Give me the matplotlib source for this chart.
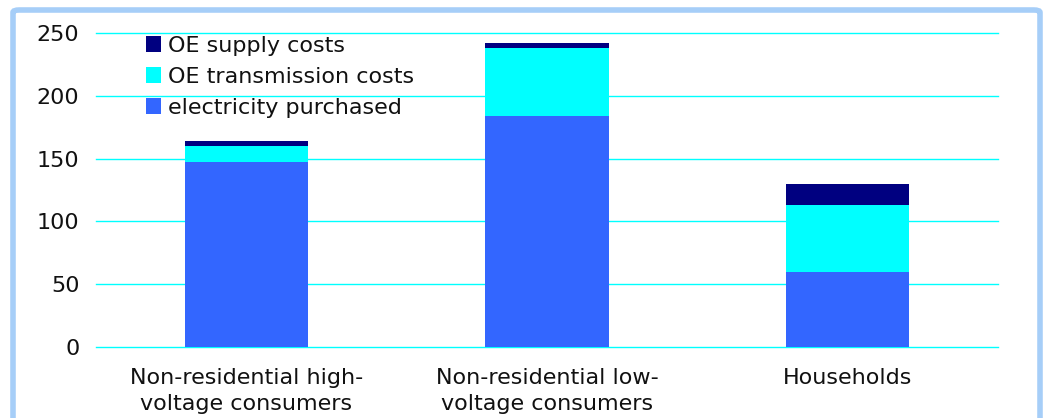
import numpy as np
import matplotlib.pyplot as plt
from matplotlib.patches import FancyBboxPatch

categories = ['Non-residential high-\nvoltage consumers',
              'Non-residential low-\nvoltage consumers',
              'Households']
electricity_purchased = [147, 184, 60]
transmission_costs = [13, 54, 53]
supply_costs = [4, 4, 17]

plt.rcParams['font.family'] = ['DejaVu Sans']
fig = plt.figure(figsize=(10.44, 4.18), dpi=100)

# light blue rounded frame around the whole chart
frame = FancyBboxPatch((13 / 1044, -0.2), 1027 / 1044, 1.2 - 10 / 418,
                       boxstyle='round,pad=0,rounding_size=0.006',
                       transform=fig.transFigure, facecolor='none',
                       edgecolor='#A6CEF8', linewidth=4, zorder=-1)
fig.patches.append(frame)

ax = fig.add_axes([0.092, 0.170, 0.864, 0.751])
ax.set_facecolor('none')
x = np.arange(len(categories))
w = 0.41
b1 = np.array(electricity_purchased)
b2 = b1 + np.array(transmission_costs)
ax.bar(x, electricity_purchased, w, color='#3366FF', label='electricity purchased', zorder=3)
ax.bar(x, transmission_costs, w, bottom=b1, color='#00FFFF', label='OE transmission costs', zorder=3)
ax.bar(x, supply_costs, w, bottom=b2, color='#000080', label='OE supply costs', zorder=3)

ax.set_xlim(-0.5, 2.5)
ax.set_ylim(0, 250)
ax.set_yticks(range(0, 251, 50))
ax.yaxis.grid(True, color='#00FFFF', linewidth=1.0, zorder=1, clip_on=False)
ax.set_axisbelow(True)
for s in ax.spines.values():
    s.set_visible(False)
ax.tick_params(length=0, labelsize=16, colors='#111111')
ax.tick_params(axis='y', pad=12)
ax.tick_params(axis='x', pad=15)
ax.set_xticks(x)
ax.set_xticklabels(categories, linespacing=1.4)

handles, labels = ax.get_legend_handles_labels()
ax.legend(handles[::-1], labels[::-1], loc='upper left', bbox_to_anchor=(0.033, 1.055),
          frameon=False, fontsize=16, handlelength=0.7, handleheight=0.7,
          handletextpad=0.3, labelspacing=0.5, labelcolor='#111111')

fig.savefig('out.png', dpi=100)
